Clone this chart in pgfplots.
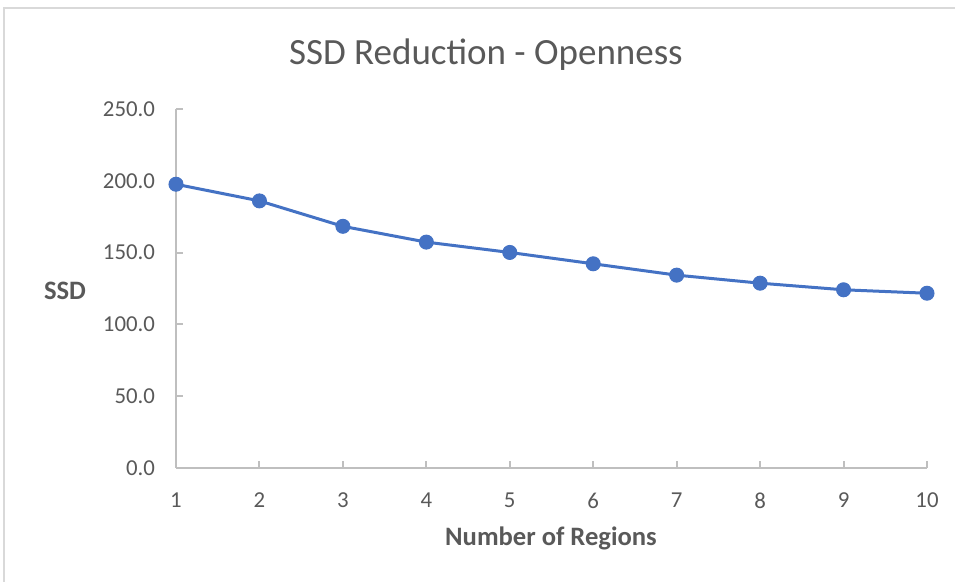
\documentclass[border=0pt]{standalone}
\usepackage{fontspec}
\setmainfont{Carlito}
\usepackage{pgfplots}
\pgfplotsset{compat=1.18}
\definecolor{lineblue}{HTML}{4472C4}
\definecolor{axgray}{HTML}{BFBFBF}
\definecolor{txtgray}{HTML}{595959}
\definecolor{framegray}{HTML}{D9D9D9}
\begin{document}
\begin{tikzpicture}[x=0.5pt,y=0.5pt]
\begin{axis}[
  scale only axis,
  width=375.5pt, height=179.5pt,
  xmin=1, xmax=10, ymin=0, ymax=250,
  xtick={1,...,10}, ytick={0,50,...,250},
  axis x line*=bottom, axis y line*=left,
  axis line style={axgray, line width=1pt},
  tick style={axgray, line width=1pt},
  tick align=inside,
  major tick length=3.5pt,
  ticklabel style={txtgray, font=\fontsize{11.4}{13}\selectfont},
  yticklabel style={xshift=-7pt},
  xticklabel style={yshift=-9pt},
  /pgf/number format/assume math mode=true,
  yticklabel={\pgfmathprintnumber[fixed,fixed zerofill,precision=1]{\tick}},
  xticklabel={\pgfmathprintnumber[fixed,precision=0]{\tick}},
  clip=false,
]
\addplot[lineblue, line width=1.5pt, mark=*, mark size=3.5pt, mark options={fill=lineblue, draw=lineblue, line width=0.5pt}]
coordinates {(1,197.6) (2,186.0) (3,168.3) (4,157.3) (5,150.1) (6,142.2) (7,134.3) (8,128.7) (9,124.1) (10,121.7)};
\coordinate (O) at (rel axis cs:0,0);
\end{axis}
\pgfresetboundingbox
\path[use as bounding box] ([shift={(-176,-114)}]O) rectangle ([shift={(779,468)}]O);
\draw[framegray,line width=1pt] ([shift={(-172,-114)}]O) -- ([shift={(-172,460)}]O) -- ([shift={(779,460)}]O);
\node[txtgray,font=\fontsize{18.5}{21}\selectfont] at ([shift={(310,413)}]O) {SSD Reduction - Openness};
\node[txtgray,font=\fontsize{13.3}{15}\selectfont\bfseries] at ([shift={(-111,177)}]O) {SSD};
\node[txtgray,font=\fontsize{13.3}{15}\selectfont\bfseries] at ([shift={(375,-70)}]O) {Number of Regions};
\end{tikzpicture}
\end{document}
